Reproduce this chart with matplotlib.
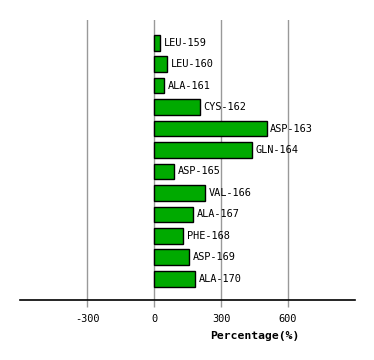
import matplotlib
matplotlib.use('Agg')
import matplotlib.pyplot as plt

residues = ['LEU-159', 'LEU-160', 'ALA-161', 'CYS-162', 'ASP-163', 'GLN-164',
            'ASP-165', 'VAL-166', 'ALA-167', 'PHE-168', 'ASP-169', 'ALA-170']
values = [29, 59, 45, 207, 505, 438, 90, 230, 176, 131, 158, 185]
xticks = [-300, 0, 300, 600]

fig = plt.figure(figsize=(3.74, 3.6), dpi=100)
ax = fig.add_axes([20 / 374, 60 / 360, 335 / 374, 280 / 360])

pos = list(range(len(residues)))
ax.barh(pos, values, height=0.73, color='#00aa00', edgecolor='black', linewidth=1, zorder=3)
for y, v, name in zip(pos, values, residues):
    ax.text(v + 15, y, name, va='center', ha='left', fontsize=7.4,
            family='DejaVu Sans Mono', zorder=4)

ax.set_xlim(-600, 900)
ax.set_ylim(len(residues) - 0.01, -1.06)
ax.set_xticks(xticks)
ax.set_xticklabels([str(t) for t in xticks], family='DejaVu Sans Mono', fontsize=7.4)
ax.set_yticks([])
ax.grid(axis='x', color='#999999', linewidth=1, zorder=0)
for s in ['top', 'right', 'left']:
    ax.spines[s].set_visible(False)
ax.spines['bottom'].set_linewidth(1.2)
ax.tick_params(axis='x', length=5, width=1, color='#999999', pad=5)

ax.set_xlabel('Percentage(%)', family='DejaVu Sans Mono', fontsize=8.2, fontweight='bold')
ax.xaxis.set_label_coords(0.70, -0.11)

fig.savefig('out.png', dpi=100)
